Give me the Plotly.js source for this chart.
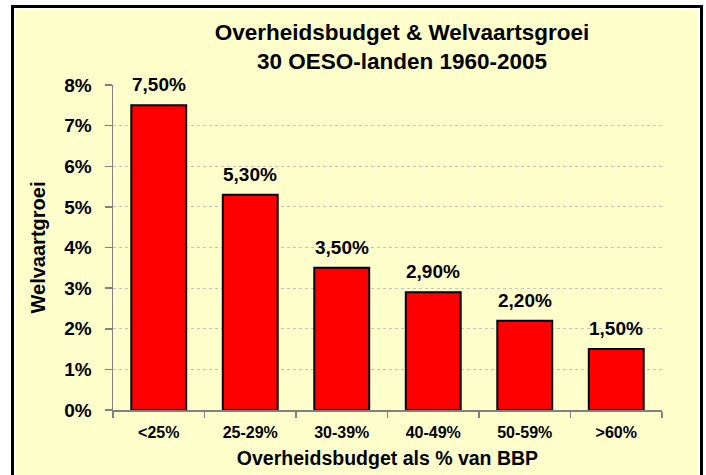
<!DOCTYPE html>
<html>
<head>
<meta charset="utf-8">
<script src="https://cdn.plot.ly/plotly-3.0.1.min.js"></script>
<style>
  html, body { margin:0; padding:0; background:#fff; width:706px; height:475px; overflow:hidden; }
  #bg { position:absolute; left:16px; top:10px; width:682px; height:480px; background:#FFFFCC;
        border:2px solid #fff; margin-left:-2px; margin-top:-2px; box-shadow:0 0 0 3px #000; }
  #chart { position:absolute; left:0; top:0; width:706px; height:475px; }
</style>
</head>
<body>
<div id="bg"></div>
<div id="chart"></div>
<script>
const categories = ['<25%', '25-29%', '30-39%', '40-49%', '50-59%', '>60%'];
const values = [7.5, 5.3, 3.5, 2.9, 2.2, 1.5];
const valueLabels = ['7,50%', '5,30%', '3,50%', '2,90%', '2,20%', '1,50%'];
const yTickVals = [0, 1, 2, 3, 4, 5, 6, 7, 8];
const yTickText = ['0%', '1%', '2%', '3%', '4%', '5%', '6%', '7%', '8%'];

const FONT = 'Arial, "Liberation Sans", sans-serif';

const trace = {
  type: 'bar',
  x: categories,
  y: values,
  marker: { color: '#FF0000', line: { color: '#000000', width: 2 } },
  hoverinfo: 'skip'
};

const annotations = categories.map((c, i) => ({
  x: c, y: values[i], xref: 'x', yref: 'y',
  text: valueLabels[i], showarrow: false,
  yanchor: 'bottom', xanchor: 'center', yshift: 8,
  font: { family: FONT, size: 19, color: '#000', weight: 700 }
}));

const layout = {
  width: 706, height: 475,
  margin: { l: 113, r: 44, t: 85, b: 65 },
  paper_bgcolor: 'rgba(0,0,0,0)',
  plot_bgcolor: 'rgba(0,0,0,0)',
  showlegend: false,
  bargap: 0.4,
  title: {
    text: 'Overheidsbudget & Welvaartsgroei<br>30 OESO-landen 1960-2005',
    xref: 'container', yref: 'container',
    x: 402 / 706, xanchor: 'center',
    y: 1 - 40 / 475, yanchor: 'middle',
    font: { family: FONT, size: 22.5, color: '#000', weight: 700 }
  },
  xaxis: {
    type: 'category',
    showline: true, linecolor: '#808080', linewidth: 1.5,
    ticks: 'outside', ticklen: 6, tickcolor: '#808080', tickwidth: 1.5,
    tickson: 'boundaries',
    ticklabelstandoff: 7,
    tickfont: { family: FONT, size: 16, color: '#000', weight: 700 },
    showgrid: false, zeroline: false,
    title: {
      text: 'Overheidsbudget als % van BBP',
      standoff: 11,
      font: { family: FONT, size: 19.5, color: '#000', weight: 700 }
    }
  },
  yaxis: {
    range: [0, 8],
    tickvals: yTickVals, ticktext: yTickText,
    showline: true, linecolor: '#808080', linewidth: 1.5,
    ticks: 'outside', ticklen: 7, tickcolor: '#808080', tickwidth: 1.5,
    ticklabelstandoff: 9,
    tickfont: { family: FONT, size: 19, color: '#000', weight: 700 },
    showgrid: true, gridcolor: '#C4C4C4', gridwidth: 1, griddash: 'dot',
    zeroline: false,
    title: {
      text: 'Welvaartgroei',
      standoff: 13,
      font: { family: FONT, size: 20, color: '#000', weight: 700 }
    }
  },
  annotations: annotations
};

Plotly.newPlot('chart', [trace], layout, { displayModeBar: false, staticPlot: true });
</script>
</body>
</html>
